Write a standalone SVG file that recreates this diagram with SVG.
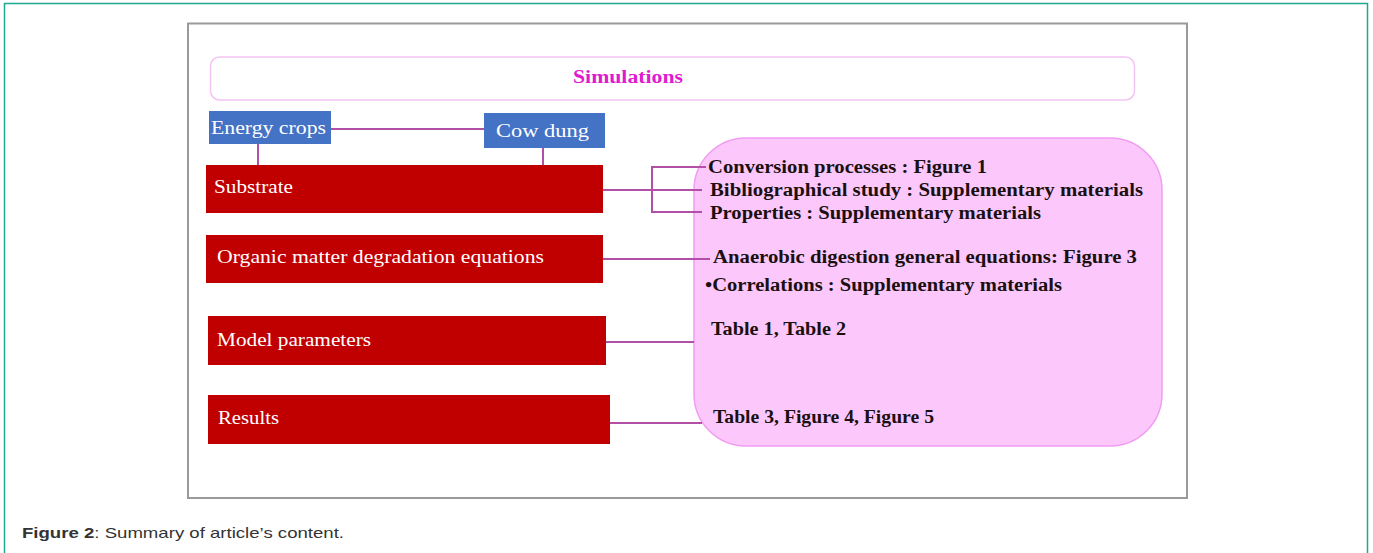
<svg xmlns="http://www.w3.org/2000/svg" width="1373" height="553" viewBox="0 0 1373 553">
<style>
.lbl{font-family:"Liberation Serif",serif;font-size:18px;fill:#fff}
.pk{font-family:"Liberation Serif",serif;font-size:18px;font-weight:bold;fill:#1a1010}
.red{fill:#c00000}
.blue{fill:#4472c4}
.con{stroke:#b24fa6;stroke-width:2;fill:none}
</style>
<rect x="0" y="0" width="1373" height="553" fill="#fff"/>
<rect x="4.5" y="3.5" width="1363" height="560" fill="none" stroke="#1fa88f" stroke-width="1.5"/>
<rect x="188" y="23.5" width="999" height="474.5" fill="#fff" stroke="#9a9a9a" stroke-width="2"/>
<g id="simulations">
<rect x="210.5" y="57" width="924" height="43" rx="9" fill="#fff" stroke="#f4c4f4" stroke-width="1.5"/>
<text x="628" y="83" text-anchor="middle" font-family="Liberation Serif,serif" font-size="18" font-weight="bold" fill="#e01ad0" textLength="110" lengthAdjust="spacingAndGlyphs">Simulations</text>
</g>
<g id="details">
<rect x="694" y="138" width="468" height="308" rx="52" fill="#fcc8fc" stroke="#f19cf1" stroke-width="1.5"/>
<text class="pk" x="708" y="173" textLength="279" lengthAdjust="spacingAndGlyphs">Conversion processes : Figure 1</text>
<text class="pk" x="710" y="196" textLength="433" lengthAdjust="spacingAndGlyphs">Bibliographical study : Supplementary materials</text>
<text class="pk" x="710" y="219" textLength="331" lengthAdjust="spacingAndGlyphs">Properties : Supplementary materials</text>
<text class="pk" x="713" y="263" textLength="424" lengthAdjust="spacingAndGlyphs">Anaerobic digestion general equations: Figure 3</text>
<text class="pk" x="705" y="291" textLength="357" lengthAdjust="spacingAndGlyphs">•Correlations : Supplementary materials</text>
<text class="pk" x="711" y="335" textLength="135" lengthAdjust="spacingAndGlyphs">Table 1, Table 2</text>
<text class="pk" x="713" y="423" textLength="221" lengthAdjust="spacingAndGlyphs">Table 3, Figure 4, Figure 5</text>
</g>
<g id="connectors">
<line class="con" x1="331" y1="129" x2="484" y2="129"/>
<line class="con" x1="258" y1="144" x2="258" y2="165"/>
<line class="con" x1="543" y1="148" x2="543" y2="165"/>
<line class="con" x1="603" y1="190" x2="702" y2="190"/>
<polyline class="con" points="706,167 652,167 652,212 702,212"/>
<line class="con" x1="603" y1="259" x2="710" y2="259"/>
<line class="con" x1="606" y1="342" x2="694" y2="342"/>
<line class="con" x1="610" y1="423" x2="702" y2="423"/>
</g>
<g id="energy-crops">
<rect class="blue" x="209" y="111" width="122" height="33"/>
<text class="lbl" x="211" y="134" textLength="115" lengthAdjust="spacingAndGlyphs">Energy crops</text>
</g>
<g id="cow-dung">
<rect class="blue" x="484" y="113" width="121" height="35"/>
<text class="lbl" x="496" y="137" textLength="93" lengthAdjust="spacingAndGlyphs">Cow dung</text>
</g>
<g id="substrate">
<rect class="red" x="206" y="165" width="397" height="48"/>
<text class="lbl" x="214" y="193" textLength="79" lengthAdjust="spacingAndGlyphs">Substrate</text>
</g>
<g id="organic">
<rect class="red" x="206" y="235" width="397" height="48"/>
<text class="lbl" x="217" y="263" textLength="327" lengthAdjust="spacingAndGlyphs">Organic matter degradation equations</text>
</g>
<g id="model-parameters">
<rect class="red" x="208" y="316" width="398" height="49"/>
<text class="lbl" x="217" y="346" textLength="154" lengthAdjust="spacingAndGlyphs">Model parameters</text>
</g>
<g id="results">
<rect class="red" x="208" y="395" width="402" height="49"/>
<text class="lbl" x="218" y="424" textLength="61" lengthAdjust="spacingAndGlyphs">Results</text>
</g>
<text x="22" y="538" font-family="Liberation Sans,Arial,sans-serif" font-size="15" fill="#333" textLength="322" lengthAdjust="spacingAndGlyphs"><tspan font-weight="bold">Figure 2</tspan>: Summary of article’s content.</text>
</svg>
